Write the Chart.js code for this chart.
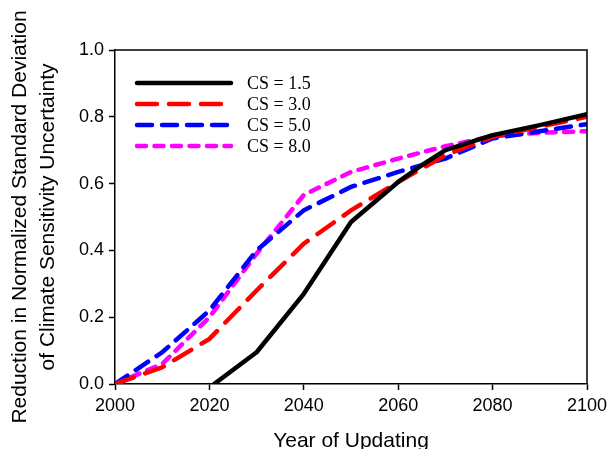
<!DOCTYPE html>
<html>
<head>
<meta charset="utf-8">
<script src="https://cdn.jsdelivr.net/npm/chart.js@4/dist/chart.umd.min.js"></script>
<style>
html,body{margin:0;padding:0;background:#fff;}
#wrap{width:616px;height:449px;}
</style>
</head>
<body>
<div id="wrap"><canvas id="c" width="616" height="449"></canvas></div>
<script>
const years = [2000, 2010, 2020, 2030, 2040, 2050, 2060, 2070, 2080, 2090, 2100];
const cs15Years = [2021, 2030, 2040, 2050, 2060, 2065, 2070, 2080, 2090, 2100];
const cs15 = [0.0, 0.095, 0.27, 0.485, 0.605, 0.655, 0.70, 0.745, 0.775, 0.808];
const cs30 = [0.0, 0.05, 0.135, 0.28, 0.42, 0.52, 0.605, 0.685, 0.74, 0.77, 0.80];
const cs50 = [0.0, 0.095, 0.22, 0.40, 0.52, 0.59, 0.635, 0.675, 0.735, 0.757, 0.778];
const cs80 = [0.0, 0.06, 0.20, 0.39, 0.566, 0.635, 0.675, 0.712, 0.742, 0.752, 0.757];
const seriesLabels = ['CS = 1.5', 'CS = 3.0', 'CS = 5.0', 'CS = 8.0'];
const xTicks = [2000, 2020, 2040, 2060, 2080, 2100];
const yTicks = [0.0, 0.2, 0.4, 0.6, 0.8, 1.0];

const pts = (xs, ys) => xs.map((x, i) => ({x: x, y: ys[i]}));

const legendBox = {
  id: 'legendBox',
  afterDraw(chart) {
    const ctx = chart.ctx;
    const a = chart.chartArea;
    ctx.save();
    ctx.strokeStyle = '#000';
    ctx.lineWidth = 1.5;
    ctx.beginPath();
    ctx.moveTo(a.left, a.top);
    ctx.lineTo(a.right, a.top);
    ctx.lineTo(a.right, a.bottom);
    ctx.stroke();
    const rowsY = [83, 104, 125, 146];
    chart.data.datasets.forEach((ds, i) => {
      const y = rowsY[i];
      ctx.strokeStyle = ds.borderColor;
      ctx.lineWidth = ds.borderWidth;
      ctx.lineCap = ds.borderCapStyle || 'butt';
      ctx.setLineDash(ds.borderDash || []);
      ctx.beginPath();
      ctx.moveTo(137, y);
      ctx.lineTo(231, y);
      ctx.stroke();
      ctx.setLineDash([]);
      ctx.fillStyle = '#000';
      ctx.font = '18px "Liberation Serif", "Times New Roman", serif';
      ctx.textBaseline = 'middle';
      ctx.textAlign = 'left';
      ctx.fillText(ds.label, 247, y + 1);
    });
    ctx.restore();
  }
};

new Chart(document.getElementById('c'), {
  type: 'line',
  data: {
    datasets: [
      {label: seriesLabels[0], data: pts(cs15Years, cs15), borderColor: '#000000', borderWidth: 4.5, borderCapStyle: 'round', borderJoinStyle: 'round', pointRadius: 0, tension: 0, fill: false},
      {label: seriesLabels[1], data: pts(years, cs30), borderColor: '#ff0000', borderWidth: 4.5, borderDash: [20, 12], borderCapStyle: 'round', pointRadius: 0, tension: 0, fill: false},
      {label: seriesLabels[2], data: pts(years, cs50), borderColor: '#0000ff', borderWidth: 4.5, borderDash: [15, 10], borderCapStyle: 'round', pointRadius: 0, tension: 0, fill: false},
      {label: seriesLabels[3], data: pts(years, cs80), borderColor: '#ff00ff', borderWidth: 4.5, borderDash: [9, 8.5], borderCapStyle: 'round', pointRadius: 0, tension: 0, fill: false}
    ]
  },
  options: {
    responsive: false,
    animation: false,
    devicePixelRatio: 1,
    layout: {padding: {left: 0, right: 29, top: 50, bottom: 0}},
    plugins: {legend: {display: false}, tooltip: {enabled: false}},
    scales: {
      x: {
        type: 'linear', min: 2000, max: 2100,
        afterBuildTicks: (s) => { s.ticks = xTicks.map(v => ({value: v})); },
        afterFit: (s) => { s.height = 65; },
        ticks: {color: '#000', font: {family: 'Arial, "Liberation Sans", sans-serif', size: 18}, padding: 5, maxRotation: 0, callback: (v) => String(v)},
        grid: {drawOnChartArea: false, drawTicks: true, tickLength: 6, color: '#000', tickWidth: 1.5},
        border: {display: true, color: '#000', width: 1.5},
        title: {display: true, text: 'Year of Updating', color: '#000', font: {family: 'Arial, "Liberation Sans", sans-serif', size: 21, lineHeight: 1}, padding: {top: 0, bottom: -3}}
      },
      y: {
        type: 'linear', min: 0, max: 1,
        afterBuildTicks: (s) => { s.ticks = yTicks.map(v => ({value: v})); },
        afterFit: (s) => { s.width = 115; },
        ticks: {color: '#000', font: {family: 'Arial, "Liberation Sans", sans-serif', size: 18}, padding: 5, callback: (v) => Number(v).toFixed(1)},
        grid: {drawOnChartArea: false, drawTicks: true, tickLength: 6, color: '#000', tickWidth: 1.5},
        border: {display: true, color: '#000', width: 1.5},
        title: {display: true, text: ['Reduction in Normalized Standard Deviation', 'of Climate Sensitivity Uncertainty'], color: '#000', font: {family: 'Arial, "Liberation Sans", sans-serif', size: 21, lineHeight: 1.33}, padding: {top: 6, bottom: 0}}
      }
    }
  },
  plugins: [legendBox]
});
</script>
</body>
</html>
